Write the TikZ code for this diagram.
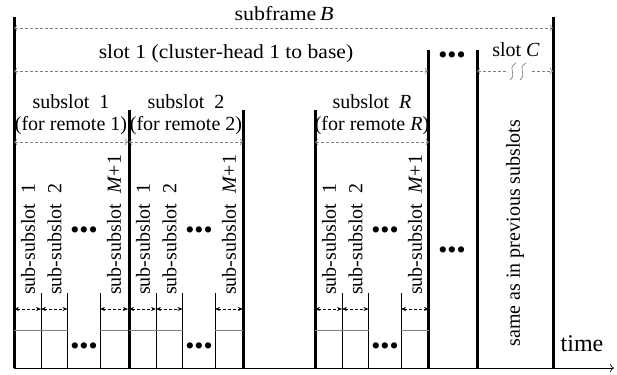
\documentclass[tikz,border=0pt]{standalone}
\usepackage{fontspec}
\setmainfont{Liberation Serif}
\usetikzlibrary{arrows.meta}

\tikzset{
  lbl/.style={inner sep=0pt, font=\fontsize{20}{24}\selectfont},
  vlbl/.style={lbl, rotate=90, anchor=west},
  bar/.style={line width=3pt},
  thinbar/.style={line width=0.8pt},
  cell/.style={gray, line width=0.8pt},
  dim/.style={gray, densely dashed, line width=0.6pt, {To[length=3pt]}-{To[length=3pt]}},
  subdim/.style={densely dashed, line width=0.7pt, {Stealth[length=5pt,width=4pt]}-{Stealth[length=5pt,width=4pt]}}
}
\newcommand{\bdots}{{\fontsize{26}{26}\selectfont\textbullet\textbullet\textbullet}}

\begin{document}
\begin{tikzpicture}[x=1pt, y=-1pt]
  \useasboundingbox (0,0) rectangle (617,374);

  % time axis
  \coordinate (t0) at (14,368);
  \coordinate (t1) at (614,368);
  \draw[line width=0.6pt, -{To[length=4pt]}] (t0) -- (t1);
  \node[lbl, font=\fontsize{24}{28}\selectfont] (time) at (582,344) {time};

  % frame and slot borders
  \draw[bar] (14,17) -- (14,368);
  \draw[bar] (553,17) -- (553,368);
  \foreach \x in {428,477} \draw[bar] (\x,50) -- (\x,368);
  \foreach \x in {129,243,315} \draw[bar] (\x,110) -- (\x,368);

  % subframe
  \coordinate (f0) at (14,28);
  \coordinate (f1) at (553,28);
  \draw[dim] (f0) -- (f1);
  \node[lbl] (subframe) at (284,14) {\scalebox{1.1}[1]{subframe\,\textit{B}}};

  % slot 1
  \coordinate (s0) at (14,71);
  \coordinate (s1) at (428,71);
  \draw[dim] (s0) -- (s1);
  \node[lbl] (slotone) at (226,54) {\scalebox{1.08}[1]{slot 1 (cluster-head 1 to base)}};

  % other slots
  \node[lbl] (slotdots) at (452,58) {\bdots};
  \node[lbl] (moredots) at (452,253) {\bdots};

  % slot C
  \node[lbl] (slotC) at (516,50) {slot \textit{C}};
  \coordinate (c0) at (477,71);
  \coordinate (c1) at (506,71);
  \coordinate (c2) at (532,71);
  \coordinate (c3) at (553,71);
  \draw[dim, {To[length=3pt]}-] (c0) -- (c1);
  \draw[dim, -{To[length=3pt]}] (c2) -- (c3);
  \draw[gray, line width=0.7pt] (516,63) .. controls (506,69) and (518,73) .. (510,80);
  \draw[gray, line width=0.7pt] (526,63) .. controls (516,69) and (528,73) .. (520,80);
  \node[vlbl, anchor=center] (same) at (515,233) {same as in previous subslots};

  % subslots
  \foreach \s/\n/\r in {14/A/1, 129/B/2, 315/R/\textit{R}} {
    \node[lbl] (sub\n) at (\s+57,102) {subslot\ \ \r};
    \node[lbl] (rem\n) at (\s+57,126) {(for remote \r)};
    \coordinate (a\n0) at (\s,142);
    \coordinate (a\n1) at (\s+114,142);
    \draw[dim] (a\n0) -- (a\n1);

    % sub-subslots
    \coordinate (p\n0) at (\s,309);
    \coordinate (p\n1) at (\s+27,309);
    \coordinate (p\n2) at (\s+53.5,309);
    \coordinate (p\n3) at (\s+86,309);
    \coordinate (p\n4) at (\s+114,309);
    \foreach \x in {27,53.5,86} \draw[thinbar] (\s+\x,293) -- (\s+\x,368);
    \draw[cell] (\s,330) -- (\s+53.5,330);
    \draw[cell] (\s+86,330) -- (\s+114,330);
    \draw[subdim] (p\n0) -- (p\n1);
    \draw[subdim] (p\n1) -- (p\n2);
    \draw[subdim] (p\n3) -- (p\n4);
    \node[vlbl] (ss\n1) at (\s+14,295) {sub-subslot\ \ 1};
    \node[vlbl] (ss\n2) at (\s+40.5,295) {sub-subslot\ \ 2};
    \node[vlbl] (ss\n3) at (\s+100,295) {sub-subslot\ \ \textit{M}+1};
    \node[lbl] (dt\n1) at (\s+70,233) {\bdots};
    \node[lbl] (dt\n2) at (\s+70,349) {\bdots};
  }
\end{tikzpicture}
\end{document}
